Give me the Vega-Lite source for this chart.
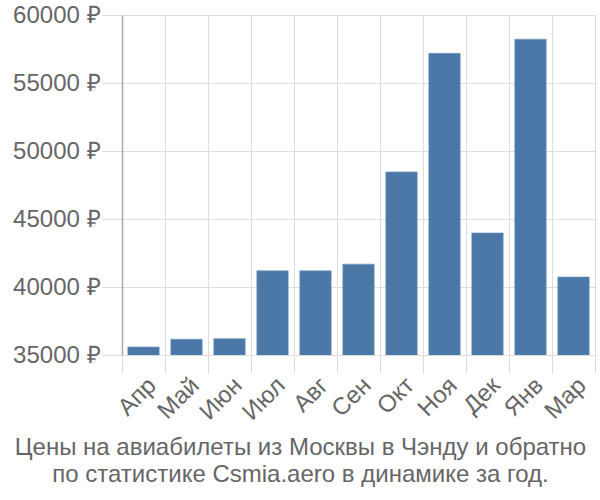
{
  "$schema": "https://vega.github.io/schema/vega-lite/v6.json",
  "width": 473,
  "height": 340,
  "autosize": {"type": "none"},
  "padding": {"left": 122, "top": 15, "right": 5, "bottom": 145},
  "background": "white",
  "config": {
    "font": "Liberation Sans",
    "view": {"stroke": null}
  },
  "title": {
    "text": ["Цены на авиабилеты из Москвы в Чэнду и обратно", "по статистике Csmia.aero в динамике за год."],
    "orient": "bottom",
    "anchor": "middle",
    "dx": -58,
    "offset": 12,
    "fontSize": 24,
    "fontWeight": "normal",
    "color": "#666666",
    "lineHeight": 27,
    "font": "Liberation Sans"
  },
  "data": {
    "values": [
      {"month": "Апр", "price": 35590},
      {"month": "Май", "price": 36160},
      {"month": "Июн", "price": 36200},
      {"month": "Июл", "price": 41190},
      {"month": "Авг", "price": 41190},
      {"month": "Сен", "price": 41680},
      {"month": "Окт", "price": 48460},
      {"month": "Ноя", "price": 57180},
      {"month": "Дек", "price": 43975},
      {"month": "Янв", "price": 58220},
      {"month": "Мар", "price": 40730}
    ]
  },
  "mark": {"type": "bar", "clip": true, "width": {"band": 0.73}, "fill": "#4c78a8", "stroke": "#6f93bf", "strokeWidth": 0.6},
  "encoding": {
    "x": {
      "field": "month",
      "type": "nominal",
      "sort": null,
      "scale": {"paddingInner": 0, "paddingOuter": 0},
      "axis": {
        "title": null,
        "labelAngle": -45,
        "labelFontSize": 24,
        "labelColor": "#666666",
        "labelAlign": "right",
        "labelBaseline": "top",
        "labelPadding": 0,
        "grid": true,
        "gridColor": "#dddddd",
        "gridWidth": 1,
        "tickBand": "extent",
        "ticks": true,
        "tickSize": 18,
        "tickColor": "#dddddd",
        "domain": false
      }
    },
    "y": {
      "field": "price",
      "type": "quantitative",
      "scale": {"domain": [35000, 60000], "zero": false, "nice": false},
      "axis": {
        "title": null,
        "values": [35000, 40000, 45000, 50000, 55000, 60000],
        "labelExpr": "datum.value + ' ₽'",
        "labelFontSize": 24,
        "labelColor": "#666666",
        "labelPadding": 2,
        "grid": true,
        "gridColor": "#dddddd",
        "tickColor": "#dddddd",
        "tickSize": 20,
        "domain": true,
        "domainColor": "#aaaaaa",
        "domainWidth": 1.5
      }
    }
  }
}
